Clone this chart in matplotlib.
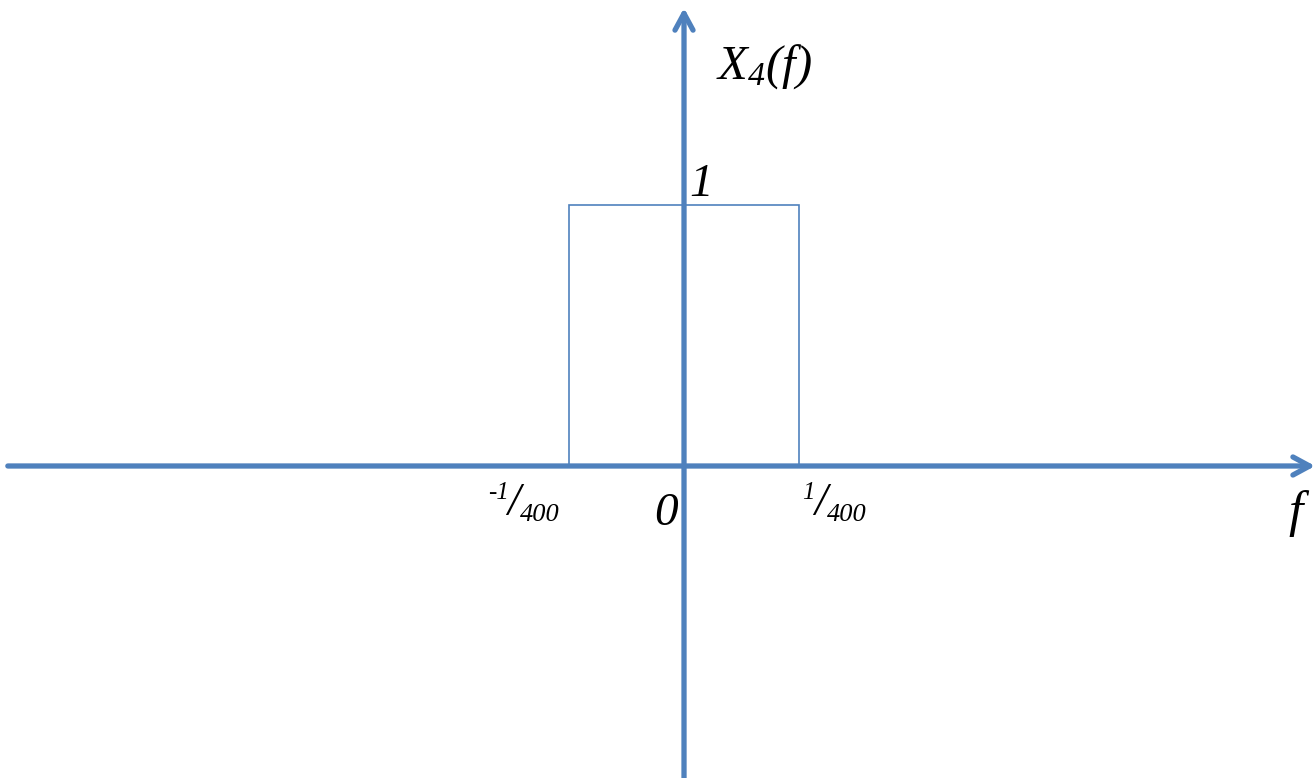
import matplotlib
matplotlib.use("Agg")
import matplotlib.pyplot as plt

# rectangular spectrum X4(f): unit height between -1/400 and 1/400
band_edges = [-1 / 400, 1 / 400]
band_height = 1
edge_numerators = ["-1", "1"]
edge_denominator = "400"

blue = "#4F81BD"

plt.rcParams["mathtext.fontset"] = "custom"
plt.rcParams["mathtext.rm"] = "Liberation Serif:italic"
plt.rcParams["mathtext.it"] = "Liberation Serif:italic"
plt.rcParams["font.family"] = "Liberation Serif"
plt.rcParams["font.style"] = "italic"

fig = plt.figure(figsize=(13.16, 7.78), dpi=100)
ax = fig.add_axes([0, 0, 1, 1])
ax.set_xlim(-0.014870, 0.013739)
ax.set_ylim(-1.1954, 1.7854)
ax.axis("off")

# the box
x0, x1 = band_edges
ax.plot([x0, x0, x1, x1], [0, band_height, band_height, 0], color=blue, lw=1.2,
        solid_joinstyle="miter", zorder=2)

# axes with open arrow heads
arrow = dict(arrowstyle="->,head_length=1.2,head_width=0.65", color=blue, lw=3.8,
             capstyle="round", joinstyle="round", shrinkA=0, shrinkB=0)
ax.annotate("", xy=(0.013720, 0), xytext=(-0.014700, 0), arrowprops=arrow, zorder=3)
ax.annotate("", xy=(0, 1.755), xytext=(0, -1.25), arrowprops=arrow, zorder=3)

# axis names and values
ax.text(0.00070, 1.483, r"$X_4(f)$", fontsize=35, ha="left", va="baseline")
ax.annotate("1", (0, band_height), xytext=(5, 9), textcoords="offset pixels",
            fontsize=34, ha="left", va="baseline")
ax.annotate("0", (0, 0), xytext=(-30, -59), textcoords="offset pixels",
            fontsize=34, ha="left", va="baseline")
ax.text(0.013304, -0.2299, "f", fontsize=37, ha="center", va="baseline")

# band edge labels written as split fractions
offsets = [(-81, -62, -49), (3, 15, 28)]
for xe, num, (dn, ds, dd) in zip(band_edges, edge_numerators, offsets):
    ax.annotate(num, (xe, 0), xytext=(dn, -33), textcoords="offset pixels",
                fontsize=18, ha="left", va="baseline")
    ax.annotate("/", (xe, 0), xytext=(ds, -49), textcoords="offset pixels",
                fontsize=33, ha="left", va="baseline")
    ax.annotate(edge_denominator, (xe, 0), xytext=(dd, -55), textcoords="offset pixels",
                fontsize=19, ha="left", va="baseline")

fig.savefig("out.png", dpi=100, facecolor="white")
